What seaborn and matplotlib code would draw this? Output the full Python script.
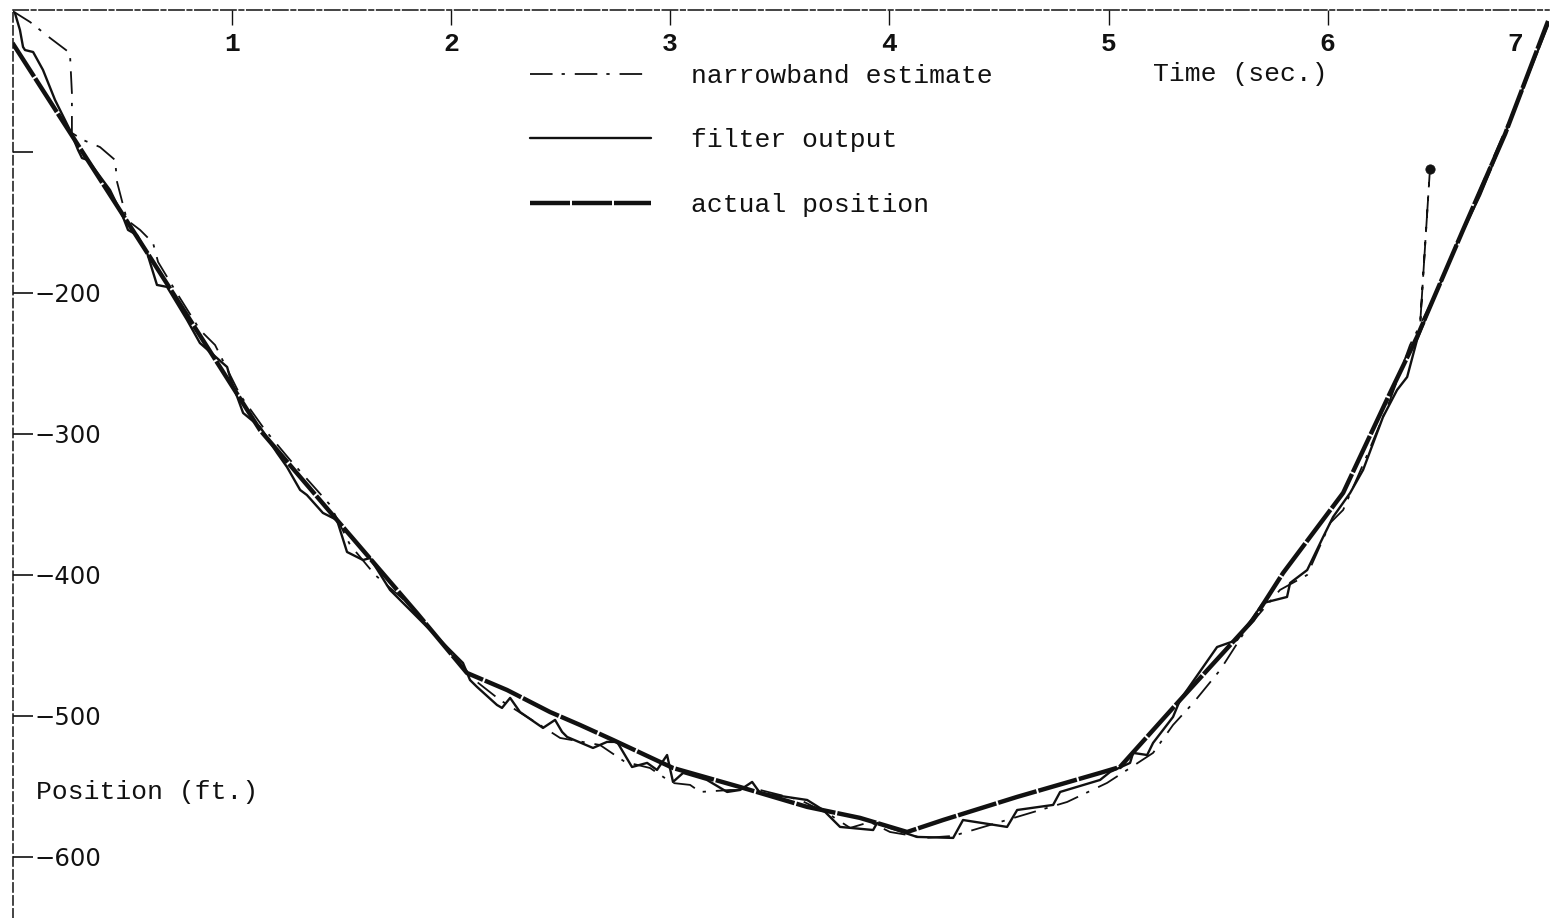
import numpy as np
import matplotlib
matplotlib.use("Agg")
import matplotlib.pyplot as plt
import matplotlib.transforms as mtransforms
import seaborn as sns

# ---------------------------------------------------------------- data
# true trajectory (seconds, feet)
time_actual = [0.00, 0.627, 0.810, 1.129, 1.480, 1.845, 2.073, 2.256, 2.452, 2.589,
               2.739, 3.013, 3.319, 3.625, 3.866, 4.081, 4.245, 4.583, 4.961, 5.052,
               5.326, 5.659, 5.796, 6.070, 6.284, 6.407, 6.617, 6.809, 7.005]
pos_actual = [-22.7, -174.5, -219.1, -297.2, -361.0, -427.0, -469.5, -481.6, -497.2, -506.4,
              -517.0, -536.9, -550.4, -564.5, -572.3, -582.3, -573.8, -557.4, -540.4, -536.2,
              -488.7, -431.9, -398.6, -341.8, -270.9, -231.2, -155.3, -87.2, -7.1]

# tracking filter output
time_filter = [0.011, 0.034, 0.048, 0.057, 0.094, 0.139, 0.194, 0.262, 0.299, 0.317,
               0.344, 0.445, 0.504, 0.527, 0.568, 0.614, 0.659, 0.705, 0.796, 0.855,
               0.979, 0.992, 1.052, 1.129, 1.207, 1.252, 1.312, 1.343, 1.416, 1.480,
               1.526, 1.599, 1.631, 1.722, 1.827, 1.918, 2.055, 2.087, 2.119, 2.210,
               2.233, 2.270, 2.315, 2.420, 2.475, 2.507, 2.530, 2.648, 2.712, 2.758,
               2.826, 2.895, 2.940, 2.986, 3.013, 3.059, 3.168, 3.260, 3.319, 3.374,
               3.410, 3.625, 3.698, 3.775, 3.926, 3.944, 4.003, 4.126, 4.291, 4.336,
               4.537, 4.583, 4.747, 4.779, 4.961, 5.007, 5.098, 5.112, 5.176, 5.203,
               5.294, 5.326, 5.495, 5.586, 5.705, 5.814, 5.828, 5.906, 5.979, 6.024,
               6.102, 6.161, 6.252, 6.316, 6.362, 6.407, 6.480, 6.526, 6.590, 6.695,
               6.809, 6.923, 7.005]
pos_filter = [-1.4, -13.5, -25.5, -27.7, -29.1, -41.8, -63.1, -84.4, -98.6, -104.3,
              -105.7, -127.0, -146.1, -155.3, -158.9, -171.6, -194.3, -195.7, -219.1, -235.5,
              -252.5, -259.6, -285.1, -295.0, -313.5, -323.4, -339.7, -343.3, -356.0, -361.0,
              -383.7, -389.4, -388.0, -410.6, -426.9, -441.1, -462.4, -474.5, -479.4, -492.2,
              -494.3, -487.2, -497.2, -508.5, -502.8, -511.3, -514.9, -522.7, -518.4, -518.4,
              -536.2, -533.3, -538.3, -527.7, -546.8, -540.4, -545.4, -553.9, -552.5, -546.8,
              -554.6, -559.6, -566.7, -578.7, -580.9, -575.9, -579.4, -585.8, -586.5, -573.8,
              -578.7, -566.7, -563.1, -553.9, -545.4, -539.7, -533.3, -526.2, -527.7, -519.1,
              -500.7, -488.7, -451.1, -446.1, -419.9, -415.6, -405.7, -396.5, -373.0, -358.9,
              -341.8, -325.5, -287.9, -268.8, -259.6, -233.3, -205.0, -188.7, -164.5, -130.5,
              -87.2, -41.8, -9.9]

# narrowband position estimate
time_narrow = [0.000, 0.080, 0.171, 0.262, 0.271, 0.271, 0.322, 0.399, 0.468, 0.477,
               0.522, 0.582, 0.641, 0.664, 0.741, 0.855, 0.924, 1.038, 1.152, 1.266,
               1.449, 1.540, 1.654, 1.813, 1.950, 2.078, 2.224, 2.406, 2.498, 2.680,
               2.794, 2.908, 3.009, 3.091, 3.137, 3.274, 3.410, 3.593, 3.730, 3.821,
               3.912, 4.003, 4.163, 4.291, 4.460, 4.688, 4.811, 4.993, 5.098, 5.203,
               5.294, 5.386, 5.509, 5.632, 5.782, 5.906, 6.011, 6.070, 6.170, 6.284,
               6.375, 6.421, 6.466, 6.421, 6.512, 6.626, 6.741, 6.877, 6.991]
pos_narrow = [0.0, -7.8, -19.1, -29.8, -58.2, -86.5, -91.5, -96.5, -105.7, -121.3,
              -148.2, -155.3, -164.5, -178.0, -197.9, -226.2, -236.9, -272.3, -297.2, -318.4,
              -350.4, -378.7, -400.0, -421.3, -446.1, -470.9, -488.7, -506.4, -515.6, -520.6,
              -532.6, -536.9, -547.5, -548.9, -553.9, -552.5, -552.5, -559.6, -570.2, -579.4,
              -575.2, -582.3, -586.5, -585.1, -577.3, -566.7, -561.0, -547.5, -536.9, -526.2,
              -506.4, -490.8, -467.4, -437.6, -410.6, -400.0, -363.1, -353.9, -318.4, -275.9,
              -236.9, -222.7, -112.1, -222.7, -194.3, -151.8, -109.2, -59.6, -13.5]

series_labels = ["narrowband estimate", "filter output", "actual position"]

x_ticks = [1, 2, 3, 4, 5, 6]
x_tick_labels = ["1", "2", "3", "4", "5", "6"]
last_time_label = "7"
y_ticks = [-100, -200, -300, -400, -500, -600]
y_tick_labels = ["", "\u2212200", "\u2212300", "\u2212400", "\u2212500", "\u2212600"]

# ---------------------------------------------------------------- style
sns.set_theme(style="white")
plt.rcParams["font.family"] = ["Liberation Mono", "DejaVu Sans"]

W, H = 1554, 918
fig = plt.figure(figsize=(W / 100, H / 100), dpi=100)
fig.patch.set_facecolor("white")
ax = fig.add_axes([12.5 / W, 0.0, (1549.2 - 12.5) / W, 1 - 10 / H])
ax.set_facecolor("white")

ink = "#111111"

sns.lineplot(x=time_actual, y=pos_actual, ax=ax, color=ink, lw=3.2,
             linestyle=(0, (9, 0.45)), sort=False, estimator=None,
             label=series_labels[2])
sns.lineplot(x=time_filter, y=pos_filter, ax=ax, color=ink, lw=1.7,
             sort=False, estimator=None, label=series_labels[1])
sns.lineplot(x=time_narrow, y=pos_narrow, ax=ax, color=ink, lw=1.3,
             linestyle=(0, (12.5, 5.0, 1.8, 5.5)), sort=False, estimator=None,
             label=series_labels[0])

# isolated dot on top of the late narrowband spike (largest jump above both neighbours)
p_arr = np.asarray(pos_narrow)
rise = p_arr[1:-1] - np.maximum(p_arr[:-2], p_arr[2:])
spike = int(np.argmax(rise)) + 1
sns.scatterplot(x=[time_narrow[spike]], y=[pos_narrow[spike]], ax=ax,
                color=ink, s=45, edgecolor=ink, legend=False, zorder=5)

ax.set_xlim(0, 7.01)
ax.set_ylim(-643.3, 0.7)

# ---------------------------------------------------------------- axes
ax.spines["right"].set_visible(False)
ax.spines["bottom"].set_visible(False)
for side, ls in (("top", (0, (10, 2, 3, 2))), ("left", (0, (6, 2.5)))):
    ax.spines[side].set_color(ink)
    ax.spines[side].set_linewidth(1.1)
    ax.spines[side].set_linestyle(ls)

ax.set_xticks(x_ticks)
ax.set_xticklabels(x_tick_labels)
ax.tick_params(axis="x", which="major", top=True, bottom=False, labeltop=True,
               labelbottom=False, direction="in", length=11, width=1.0,
               color=ink, pad=-24.5, labelsize=19, labelcolor=ink)
plt.setp(ax.get_xticklabels(), va="center", fontweight="bold")

ax.set_yticks(y_ticks)
ax.set_yticklabels(y_tick_labels)
ax.tick_params(axis="y", which="major", left=True, right=False, labelleft=True,
               direction="in", length=14.5, width=1.2, color=ink,
               pad=-15.5, labelsize=17.5, labelcolor=ink)
plt.setp(ax.get_yticklabels(), ha="left", family=["DejaVu Sans"])

top_band = mtransforms.blended_transform_factory(ax.transData, ax.transAxes)
ax.text(6.855, 1 - 34 / 908, last_time_label, transform=top_band, ha="center",
        va="center", fontsize=19, fontweight="bold", color=ink)

ax.set_xlabel("Time (sec.)", fontsize=19, color=ink)
ax.xaxis.set_label_position("top")
ax.xaxis.set_label_coords(0.7988, 0.9295)
ax.xaxis.label.set_va("center")

ax.set_ylabel("Position (ft.)", fontsize=19, color=ink, rotation=0)
ax.yaxis.set_label_coords(0.0875, 0.1388)
ax.yaxis.label.set_va("center")
ax.yaxis.label.set_ha("center")

# ---------------------------------------------------------------- legend
handles, labels = ax.get_legend_handles_labels()
by_label = dict(zip(labels, handles))
ax.legend([by_label[s] for s in series_labels], series_labels,
          loc="upper left", bbox_to_anchor=(530 / W, 1 - 64 / H),
          bbox_transform=fig.transFigure, frameon=False,
          prop={"family": "Liberation Mono", "size": 19},
          handlelength=4.6, handletextpad=1.5, labelspacing=1.53,
          borderpad=0, borderaxespad=0, labelcolor=ink)

fig.savefig("out.png", dpi=100, facecolor="white")
